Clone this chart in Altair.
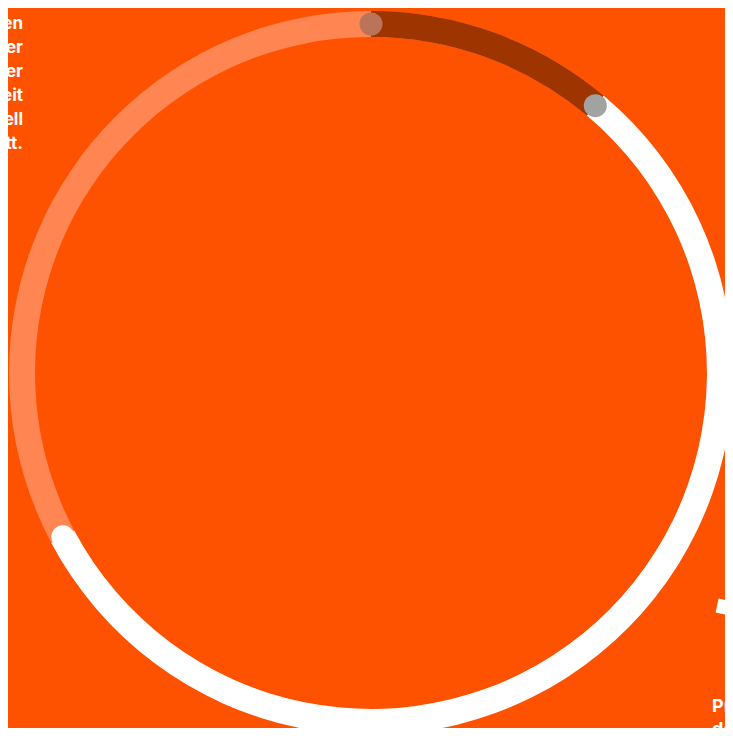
import altair as alt
import pandas as pd

# ---- data ----
segment_names = ["rest", "dark", "white"]
segment_start = [0, 0, 40]
segment_end = [360, 40, 242]
segment_colors = ["#ff8652", "#9e3500", "#ffffff"]

dot_names = ["cap", "top", "split"]
dot_angles = [242, 0, 40]
dot_colors = ["#ffffff", "#b97459", "#a2a2a2"]

left_lines = ["werden", "können", "aber", "oder", "Arbeitszeit", "aktuell", "statt."]
right_lines = ["Prozent", "der"]

# ---- layout constants ----
W, H = 717, 720
CX, CY = 363, 365
R = 349
THICK = 26
BG = "#ff5200"
FONT = "Inter"

seg_df = pd.DataFrame({"name": segment_names, "start": segment_start,
                       "end": segment_end, "color": segment_colors})
dot_df = pd.DataFrame({"name": dot_names, "angle": dot_angles, "color": dot_colors})

theta_scale = alt.Scale(domain=[0, 360], range=[0, 6.283185307179586])

layers = []
for n in segment_names:
    layers.append(
        alt.Chart(seg_df)
        .transform_filter(alt.datum.name == n)
        .mark_arc(radius=R + THICK / 2, radius2=R - THICK / 2, stroke=None)
        .encode(
            theta=alt.Theta("start:Q", scale=theta_scale),
            theta2="end:Q",
            x=alt.value(CX),
            y=alt.value(CY),
            color=alt.Color("color:N", scale=None),
        )
    )

dots = (
    alt.Chart(dot_df)
    .transform_calculate(
        px=f"{CX} + {R} * sin(datum.angle * PI / 180)",
        py=f"{CY} - {R} * cos(datum.angle * PI / 180)",
    )
    .mark_point(filled=True, opacity=1, size=531, shape="circle", strokeWidth=0)
    .encode(
        x=alt.X("px:Q", scale=None, axis=None),
        y=alt.Y("py:Q", scale=None, axis=None),
        color=alt.Color("color:N", scale=None),
    )
)

left_text = (
    alt.Chart(pd.DataFrame({"t": ["\n".join(left_lines)]}))
    .mark_text(align="right", baseline="alphabetic", lineBreak="\n", lineHeight=24,
               font=FONT, fontSize=17, fontWeight=700, color="#ffffff")
    .encode(x=alt.value(15), y=alt.value(-3), text="t:N")
)

right_text = (
    alt.Chart(pd.DataFrame({"t": ["\n".join(right_lines)]}))
    .mark_text(align="left", baseline="alphabetic", lineBreak="\n", lineHeight=23,
               font=FONT, fontSize=18, fontWeight=700, color="#ffffff")
    .encode(x=alt.value(704), y=alt.value(704), text="t:N")
)

fragment = (
    alt.Chart(pd.DataFrame({"k": [1]}))
    .mark_point(shape="square", filled=True, size=200, angle=12, opacity=1,
                color="#ffffff", strokeWidth=0)
    .encode(x=alt.value(716), y=alt.value(599))
)

chart = (
    alt.layer(*layers, dots, left_text, right_text, fragment)
    .properties(width=W, height=H, background=BG, padding=0,
                autosize=alt.AutoSizeParams(type="none"))
    .configure_view(stroke=None)
)

chart.save("out.html", embed_options={"renderer": "svg", "actions": False})
